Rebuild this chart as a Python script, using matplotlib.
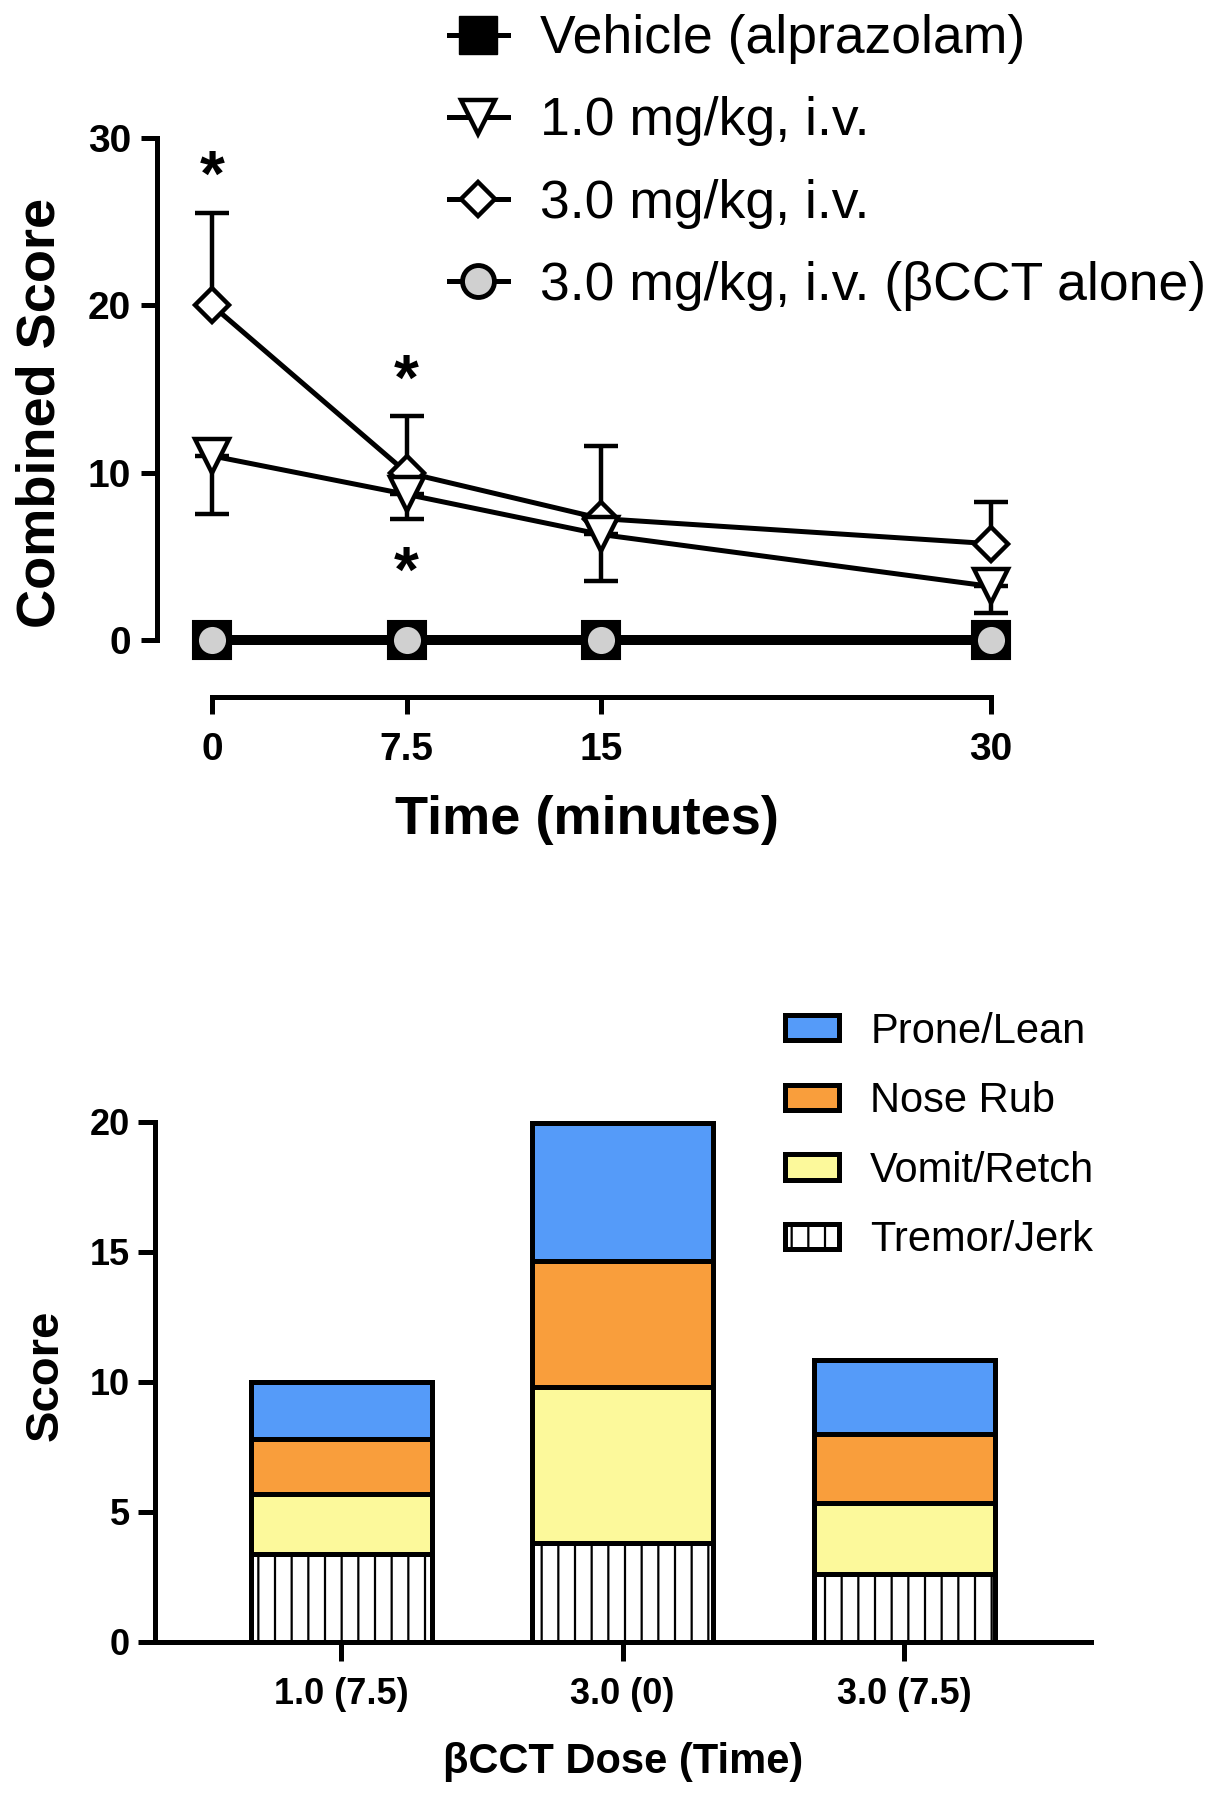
import matplotlib
matplotlib.use("Agg")
import matplotlib.pyplot as plt
import matplotlib.transforms as mtransforms
import numpy as np
from matplotlib.patches import Patch
from matplotlib.lines import Line2D

plt.rcParams['font.family'] = ['Liberation Sans', 'DejaVu Sans']
plt.rcParams['hatch.linewidth'] = 1.6

# ---------------- data: top panel ----------------
time_min = [0, 7.5, 15, 30]
time_labels = ["0", "7.5", "15", "30"]
vehicle = [0, 0, 0, 0]
dose_1 = [11.0, 8.7, 6.3, 3.2]
dose_1_err_low = [3.5, 1.5, 2.75, 1.6]
dose_3 = [20.0, 10.0, 7.25, 5.75]
dose_3_err_up = [5.5, 3.4, 4.35, 2.5]
bcct_alone = [0, 0, 0, 0]
star_x = [0, 7.5, 7.5]
star_y = [28.5, 16.3, 4.8]
series_labels = ["Vehicle (alprazolam)", "1.0 mg/kg, i.v.", "3.0 mg/kg, i.v.",
                 "3.0 mg/kg, i.v. (\u03b2CCT alone)"]

# ---------------- data: bottom panel ----------------
groups = ["1.0 (7.5)", "3.0 (0)", "3.0 (7.5)"]
tremor = [3.4, 3.8, 2.6]
vomit = [2.3, 6.0, 2.75]
nose = [2.1, 4.85, 2.65]
prone = [2.2, 5.3, 2.85]
stack_labels = ["Prone/Lean", "Nose Rub", "Vomit/Retch", "Tremor/Jerk"]
c_prone = "#559BF9"
c_nose = "#F99E3C"
c_vomit = "#FCF99B"

fig = plt.figure(figsize=(12.3, 18), dpi=100)

# ================= top panel =================
ax = fig.add_axes([0.1276, 0.6128, 0.6988, 0.3152])
ax.set_xlim(-2.12, 31.0)
ax.set_ylim(-3.41, 30.5)

lw = 3.6
# 3.0 mg/kg
ax.errorbar(time_min, dose_3, yerr=[np.zeros(4), dose_3_err_up], fmt='none',
            ecolor='black', elinewidth=3.2, capsize=12, capthick=3.2, zorder=3, clip_on=False)
ax.plot(time_min, dose_3, color='black', lw=lw, marker='D', ms=17, mfc='white',
        mec='black', mew=3.2, zorder=4, clip_on=False)
# 1.0 mg/kg
ax.errorbar(time_min, dose_1, yerr=[dose_1_err_low, np.zeros(4)], fmt='none',
            ecolor='black', elinewidth=3.2, capsize=12, capthick=3.2, zorder=3, clip_on=False)
ax.plot(time_min, dose_1, color='black', lw=lw, marker='v', ms=24, mfc='white',
        mec='black', mew=3.2, zorder=4, clip_on=False)
# vehicle
ax.plot(time_min, vehicle, color='black', lw=7.2, marker='s', ms=28, mfc='black',
        mec='black', mew=1.5, zorder=5, clip_on=False)
# bcct alone
ax.plot(time_min, bcct_alone, color='black', lw=lw, marker='o', ms=23, mfc='#D0D0D0',
        mec='black', mew=3.5, zorder=6, clip_on=False)

star_tr = mtransforms.offset_copy(ax.transData, fig=fig, x=0, y=-11, units='points')
for sx, sy in zip(star_x, star_y):
    ax.text(sx, sy, "*", ha='center', va='center', fontsize=46, fontweight='bold',
            color='black', transform=star_tr)

for s in ['top', 'right']:
    ax.spines[s].set_visible(False)
ax.spines['left'].set_bounds(0, 30)
ax.spines['bottom'].set_bounds(0, 30)
ax.spines['left'].set_linewidth(3.6)
ax.spines['bottom'].set_linewidth(3.6)
ax.set_xticks(time_min)
ax.set_xticklabels(time_labels)
ax.set_yticks([0, 10, 20, 30])
ax.tick_params(axis='x', length=12, width=3.6, labelsize=28, pad=13)
ax.tick_params(axis='y', length=11.5, width=3.6, labelsize=28, pad=7)
for t in ax.get_xticklabels() + ax.get_yticklabels():
    t.set_fontweight('bold')
ax.set_xlabel("Time (minutes)", fontsize=39, fontweight='bold', labelpad=20)
ax.set_ylabel("Combined Score", fontsize=39, fontweight='bold', labelpad=16)

handles = [
    Line2D([0], [0], color='black', lw=lw, marker='s', ms=28, mfc='black', mec='black'),
    Line2D([0], [0], color='black', lw=lw, marker='v', ms=24, mfc='white', mec='black', mew=3.2),
    Line2D([0], [0], color='black', lw=lw, marker='D', ms=17, mfc='white', mec='black', mew=3.2),
    Line2D([0], [0], color='black', lw=lw, marker='o', ms=23, mfc='#D0D0D0', mec='black', mew=3.5),
]
fig.legend(handles, series_labels, loc='upper left', bbox_to_anchor=(0.365, 0.992),
           frameon=False, fontsize=38.5, handlelength=1.1, handletextpad=0.6,
           labelspacing=0.6, borderaxespad=0.0, borderpad=0.0)

# ================= bottom panel =================
bx = fig.add_axes([0.126, 0.0878, 0.761, 0.2961])
x = np.arange(len(groups))
w = 0.643
bw = 3.6
b0 = np.zeros(3)
bx.bar(x, tremor, w, bottom=b0, color='white', edgecolor='black', linewidth=bw,
       hatch='|', zorder=3)
b1 = b0 + np.array(tremor)
bx.bar(x, vomit, w, bottom=b1, color=c_vomit, edgecolor='black', linewidth=bw, zorder=3)
b2 = b1 + np.array(vomit)
bx.bar(x, nose, w, bottom=b2, color=c_nose, edgecolor='black', linewidth=bw, zorder=3)
b3 = b2 + np.array(nose)
bx.bar(x, prone, w, bottom=b3, color=c_prone, edgecolor='black', linewidth=bw, zorder=3)

bx.set_xlim(-0.661, 2.664)
bx.set_ylim(0, 20.5)
for s in ['top', 'right']:
    bx.spines[s].set_visible(False)
bx.spines['left'].set_bounds(0, 20)
bx.spines['left'].set_linewidth(3.6)
bx.spines['bottom'].set_linewidth(3.6)
bx.set_xticks(x)
bx.set_xticklabels(groups)
bx.set_yticks([0, 5, 10, 15, 20])
bx.tick_params(axis='x', length=14, width=3.6, labelsize=26, pad=11)
bx.tick_params(axis='y', length=12, width=3.6, labelsize=26, pad=6)
for t in bx.get_xticklabels() + bx.get_yticklabels():
    t.set_fontweight('bold')
bx.set_xlabel("\u03b2CCT Dose (Time)", fontsize=30, fontweight='bold', labelpad=22)
bx.set_ylabel("Score", fontsize=34, fontweight='bold', labelpad=16)

leg_handles = [
    Patch(facecolor=c_prone, edgecolor='black', linewidth=bw),
    Patch(facecolor=c_nose, edgecolor='black', linewidth=bw),
    Patch(facecolor=c_vomit, edgecolor='black', linewidth=bw),
    Patch(facecolor='white', edgecolor='black', linewidth=bw, hatch='|'),
]
fig.legend(leg_handles, stack_labels, loc='upper left', bbox_to_anchor=(0.638, 0.438),
           frameon=False, fontsize=30, handlelength=1.3, handleheight=0.55,
           handletextpad=0.75, labelspacing=0.71, borderaxespad=0.0, borderpad=0.0)

fig.savefig("out.png", dpi=100)
